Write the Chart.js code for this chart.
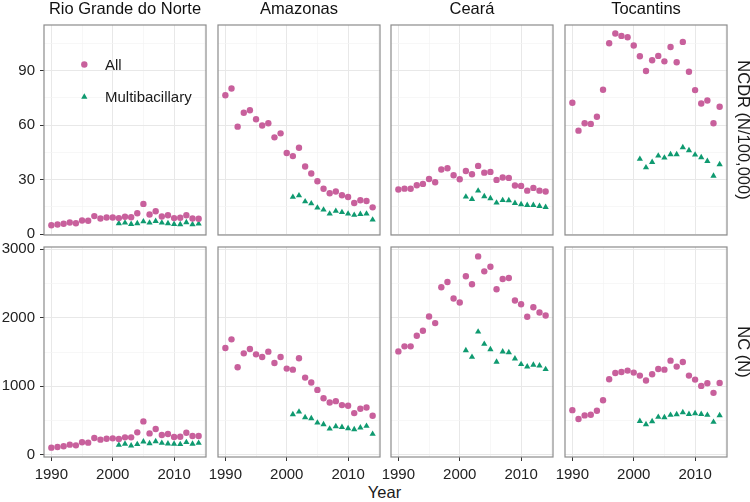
<!DOCTYPE html>
<html>
<head>
<meta charset="utf-8">
<script src="https://cdn.jsdelivr.net/npm/chart.js@4.4.1/dist/chart.umd.min.js"></script>
<style>
html, body { margin: 0; padding: 0; background: #fff; overflow: hidden; }
body { width: 750px; height: 502px; position: relative; font-family: 'Liberation Sans', Arial, sans-serif; }
canvas { position: absolute; }
#year { position: absolute; left: 334.5px; top: 482px; width: 100px; text-align: center; font-size: 16.5px; line-height: 20px; color: #1a1a1a; }
</style>
</head>
<body>
<div id="year">Year</div>
<script>
Chart.defaults.font.family = "'Liberation Sans', Arial, sans-serif";
Chart.defaults.color = '#1a1a1a';

// paneles: columnas = estados, filas = indicador
const estados = ['Rio Grande do Norte', 'Amazonas', 'Ceará', 'Tocantins'];
const filas = ['NCDR (N/100,000)', 'NC (N)'];
const series = ['All', 'Multibacillary'];

const anos = [1990, 1991, 1992, 1993, 1994, 1995, 1996, 1997, 1998, 1999, 2000, 2001, 2002,
  2003, 2004, 2005, 2006, 2007, 2008, 2009, 2010, 2011, 2012, 2013, 2014];
const anosMb = [2001, 2002, 2003, 2004, 2005, 2006, 2007, 2008, 2009, 2010, 2011, 2012, 2013, 2014];

// NCDR (por 100.000)
const ncdrAllRN = [4.9, 5.3, 5.7, 6.4, 6.0, 7.5, 7.3, 9.9, 8.6, 9.1, 9.1, 8.8, 9.5, 9.3, 11.5, 16.6, 10.8, 12.6, 9.7, 10.4, 8.8, 9.0, 10.4, 8.6, 8.4];
const ncdrMbRN = [5.9, 6.2, 5.5, 5.9, 6.9, 6.2, 7.1, 6.2, 5.9, 5.5, 5.3, 6.4, 5.3, 5.7];
const ncdrAllAM = [76.4, 80.1, 59.1, 66.7, 68.1, 63.2, 59.7, 61.0, 53.2, 55.4, 44.6, 42.9, 47.5, 37.2, 33.3, 29.1, 24.9, 22.5, 23.4, 21.4, 20.4, 17.1, 18.6, 18.2, 14.7];
const ncdrMbAM = [20.4, 21.2, 17.9, 16.8, 14.5, 13.4, 11.2, 12.7, 12.0, 11.2, 10.5, 11.0, 11.2, 7.9];
const ncdrAllCE = [24.5, 25.0, 24.9, 26.9, 27.6, 30.3, 28.5, 35.5, 36.2, 32.4, 30.2, 34.7, 32.9, 37.5, 33.8, 34.2, 29.8, 31.1, 30.9, 26.7, 26.5, 23.9, 25.4, 23.9, 23.4];
const ncdrMbCE = [20.5, 19.2, 23.8, 20.7, 19.6, 17.2, 18.6, 18.5, 17.0, 16.3, 15.9, 15.9, 15.4, 14.8];
const ncdrAllTO = [72.2, 56.9, 61.0, 60.6, 64.5, 79.4, 105.0, 110.3, 109.0, 108.3, 103.7, 97.8, 89.7, 95.6, 98.0, 95.0, 102.9, 94.5, 105.7, 89.3, 79.2, 71.8, 73.5, 61.0, 70.0];
const ncdrMbTO = [41.3, 36.6, 39.6, 43.1, 42.0, 43.8, 43.8, 47.7, 46.0, 43.6, 42.2, 40.1, 32.0, 38.3];

// NC (casos)
const ncAllRN = [106, 116, 126, 150, 140, 184, 179, 247, 223, 237, 242, 232, 256, 256, 329, 489, 314, 377, 290, 305, 261, 266, 324, 276, 276];
const ncMbRN = [145, 160, 135, 155, 194, 169, 198, 174, 164, 160, 155, 184, 160, 174];
const ncAllAM = [1558, 1684, 1277, 1480, 1543, 1466, 1427, 1505, 1340, 1427, 1258, 1243, 1408, 1127, 1055, 948, 827, 764, 784, 726, 716, 610, 672, 692, 571];
const ncMbAM = [590, 629, 547, 532, 469, 445, 382, 416, 406, 387, 373, 397, 421, 305];
const ncAllCE = [1509, 1582, 1582, 1737, 1809, 2017, 1921, 2443, 2521, 2279, 2221, 2603, 2487, 2893, 2675, 2743, 2414, 2564, 2579, 2250, 2196, 2013, 2153, 2075, 2032];
const ncMbCE = [1524, 1427, 1795, 1616, 1538, 1355, 1505, 1495, 1403, 1321, 1287, 1311, 1301, 1248];
const ncAllTO = [653, 523, 576, 585, 643, 798, 1103, 1195, 1209, 1229, 1200, 1156, 1084, 1176, 1253, 1243, 1374, 1287, 1355, 1156, 1098, 1006, 1045, 905, 1050];
const ncMbTO = [493, 445, 489, 552, 547, 581, 590, 619, 595, 605, 595, 581, 479, 576];

// ticks
const xTicks = [1990, 2000, 2010];
const xMinor = [1995, 2005, 2015];
const ncdrTicks = [0, 30, 60, 90];
const ncdrMinor = [15, 45, 75, 105];
const ncTicks = [0, 1000, 2000, 3000];
const ncMinor = [500, 1500, 2500];

const datosAll = [[ncdrAllRN, ncdrAllAM, ncdrAllCE, ncdrAllTO], [ncAllRN, ncAllAM, ncAllCE, ncAllTO]];
const datosMb = [[ncdrMbRN, ncdrMbAM, ncdrMbCE, ncdrMbTO], [ncMbRN, ncMbAM, ncMbCE, ncMbTO]];
const yMayor = [ncdrTicks, ncTicks];
const yMenor = [ncdrMinor, ncMinor];
const yRango = [[-0.5, 115], [-30, 3030]];

const rosa = '#c8609c';
const verde = '#0f9a70';

// posiciones de los paneles en la pagina
const PL = [44, 217.5, 391, 564.5], PW = 162;
const PT = [25, 247], PH = 210;
const M = 14;
const ejeY = 44, ejeX = 30, tira = 25, derecha = 24;

function fijar(valor, prop) {
  return (s) => {
    s[prop] = valor;
    s.paddingLeft = 0; s.paddingRight = 0; s.paddingTop = 0; s.paddingBottom = 0;
  };
}

function rejilla(mayor, conTicks) {
  return {
    color: (ctx) => ctx.tick && mayor.includes(ctx.tick.value) ? '#e8e8e8' : '#f3f3f3',
    lineWidth: (ctx) => ctx.tick && mayor.includes(ctx.tick.value) ? 1 : 0.7,
    tickColor: (ctx) => ctx.tick && mayor.includes(ctx.tick.value) ? '#333' : 'rgba(0,0,0,0)',
    tickLength: 4,
    tickWidth: 1,
    drawTicks: conTicks
  };
}

// marco gris del panel
const marco = {
  id: 'marco',
  afterDraw(chart) {
    const {ctx, chartArea: a} = chart;
    ctx.save();
    ctx.strokeStyle = '#8c8c8c';
    ctx.lineWidth = 1.2;
    ctx.strokeRect(a.left, a.top, a.right - a.left, a.bottom - a.top);
    ctx.restore();
  }
};

// leyenda dentro del primer panel
const leyenda = {
  id: 'leyenda',
  afterDraw(chart) {
    const {ctx, chartArea: a} = chart;
    ctx.save();
    chart.data.datasets.forEach((ds, i) => {
      const x = a.left + 40.3;
      const y = a.top + 39.5 + i * 32.4;
      const r = ds.pointRadius;
      ctx.fillStyle = ds.backgroundColor;
      ctx.beginPath();
      if (ds.pointStyle == 'triangle') {
        ctx.moveTo(x, y - r);
        ctx.lineTo(x + r * Math.sqrt(3) / 2, y + r / 2);
        ctx.lineTo(x - r * Math.sqrt(3) / 2, y + r / 2);
        ctx.closePath();
      } else {
        ctx.arc(x, y, r, 0, Math.PI * 2);
      }
      ctx.fill();
      ctx.fillStyle = '#1a1a1a';
      ctx.font = "15px 'Liberation Sans', Arial, sans-serif";
      ctx.textBaseline = 'middle';
      ctx.textAlign = 'left';
      ctx.fillText(ds.label, x + 20.7, y + 1);
    });
    ctx.restore();
  }
};

for (let r = 0; r < 2; r++) {
  for (let c = 0; c < 4; c++) {
    const cv = document.createElement('canvas');
    const w = M * 2 + PW + (c == 0 ? ejeY : 0) + (c == 3 ? derecha : 0);
    const h = M * 2 + PH + (r == 0 ? tira : 0) + (r == 1 ? ejeX : 0);
    cv.width = w;
    cv.height = h;
    cv.style.left = (PL[c] - M - (c == 0 ? ejeY : 0)) + 'px';
    cv.style.top = (PT[r] - M - (r == 0 ? tira : 0)) + 'px';
    document.body.appendChild(cv);

    const escalas = {
      x: {
        type: 'linear',
        min: 1988.8,
        max: 2015.2,
        afterBuildTicks: (s) => { s.ticks = xTicks.concat(xMinor).sort((a, b) => a - b).map(v => ({value: v})); },
        ticks: {
          display: r == 1, autoSkip: false, maxRotation: 0, padding: 5,
          font: {size: 15}, color: '#222',
          callback: (v) => xTicks.includes(v) ? String(v) : ''
        },
        grid: rejilla(xTicks, r == 1),
        border: {display: false},
        afterFit: fijar(r == 1 ? ejeX : 0, 'height')
      },
      y: {
        type: 'linear',
        min: yRango[r][0],
        max: yRango[r][1],
        afterBuildTicks: (s) => { s.ticks = yMayor[r].concat(yMenor[r]).sort((a, b) => a - b).map(v => ({value: v})); },
        ticks: {
          display: c == 0, autoSkip: false, padding: 5,
          font: {size: 15}, color: '#222',
          callback: (v) => yMayor[r].includes(v) ? String(v) : ''
        },
        grid: rejilla(yMayor[r], c == 0),
        border: {display: false},
        afterFit: fijar(c == 0 ? ejeY : 0, 'width')
      }
    };
    if (c == 3) {
      escalas.yr = {
        position: 'right',
        display: true,
        grid: {display: false, drawTicks: false},
        border: {display: false},
        ticks: {display: false},
        title: {display: true, text: filas[r], font: {size: 16.5, lineHeight: 1}, padding: 0, color: '#1a1a1a'},
        afterFit: fijar(derecha, 'width')
      };
    }

    new Chart(cv, {
      type: 'scatter',
      data: {
        datasets: [{
          label: series[0],
          data: anos.map((a, i) => ({x: a, y: datosAll[r][c][i]})),
          pointStyle: 'circle',
          pointRadius: 3.2,
          pointBorderWidth: 0,
          backgroundColor: rosa,
          borderColor: rosa
        }, {
          label: series[1],
          data: anosMb.map((a, i) => ({x: a, y: datosMb[r][c][i]})),
          pointStyle: 'triangle',
          pointRadius: 3.6,
          pointBorderWidth: 0,
          backgroundColor: verde,
          borderColor: verde
        }]
      },
      options: {
        responsive: false,
        animation: false,
        events: [],
        layout: {padding: M},
        plugins: {
          legend: {display: false},
          tooltip: {enabled: false},
          title: {
            display: r == 0,
            text: estados[c],
            fullSize: false,
            font: {size: 16.5, weight: 'normal', lineHeight: 1.2},
            padding: {top: 0, bottom: tira - 19.8},
            color: '#111'
          }
        },
        scales: escalas
      },
      plugins: r == 0 && c == 0 ? [marco, leyenda] : [marco]
    });
  }
}
</script>
</body>
</html>
